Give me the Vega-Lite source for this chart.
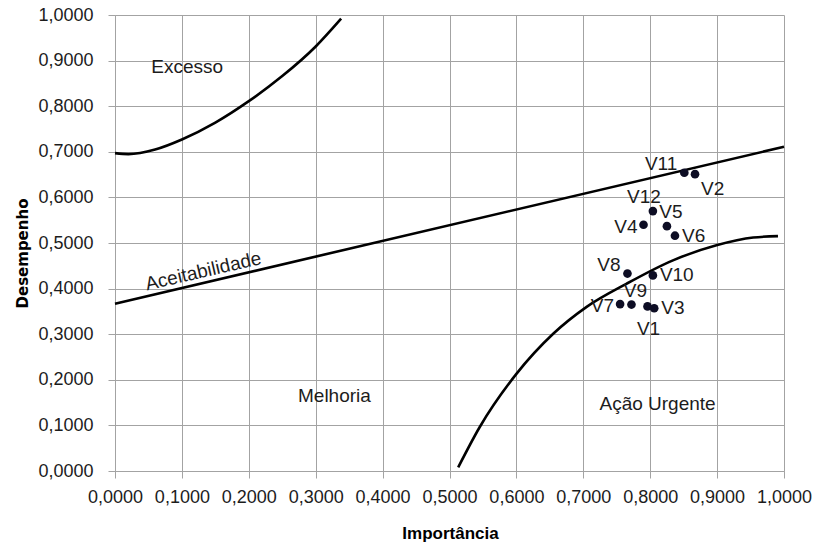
{
  "$schema": "https://vega.github.io/schema/vega-lite/v6.json",
  "width": 669,
  "height": 456,
  "autosize": "none",
  "padding": {"left": 115, "top": 15, "right": 30, "bottom": 71},
  "background": "white",
  "config": {
    "view": {"stroke": null},
    "font": "Liberation Sans",
    "axis": {
      "grid": true,
      "gridColor": "#a3a3a3",
      "gridWidth": 1,
      "domainColor": "#a3a3a3",
      "tickColor": "#a3a3a3",
      "tickSize": 7,
      "labelFont": "Liberation Sans",
      "labelFontSize": 18,
      "labelColor": "#1c1c1c",
      "labelOverlap": false,
      "labelFlush": false,
      "titleColor": "#000000",
      "titleFontWeight": "bold"
    },
    "text": {"font": "Liberation Sans", "fontSize": 19, "color": "#1c1c1c"}
  },
  "datasets": {
    "curves": [
      {"series": "Excesso", "x": 0.0, "y": 0.697},
      {"series": "Excesso", "x": 0.02, "y": 0.695},
      {"series": "Excesso", "x": 0.06, "y": 0.705},
      {"series": "Excesso", "x": 0.1, "y": 0.727},
      {"series": "Excesso", "x": 0.15, "y": 0.764},
      {"series": "Excesso", "x": 0.2, "y": 0.811},
      {"series": "Excesso", "x": 0.25, "y": 0.866},
      {"series": "Excesso", "x": 0.3, "y": 0.931},
      {"series": "Excesso", "x": 0.338, "y": 0.992},
      {"series": "Aceitabilidade", "x": 0.0, "y": 0.367},
      {"series": "Aceitabilidade", "x": 1.0, "y": 0.711},
      {"series": "Urgente", "x": 0.513, "y": 0.008},
      {"series": "Urgente", "x": 0.545, "y": 0.096},
      {"series": "Urgente", "x": 0.6, "y": 0.213},
      {"series": "Urgente", "x": 0.655, "y": 0.301},
      {"series": "Urgente", "x": 0.705, "y": 0.36},
      {"series": "Urgente", "x": 0.765, "y": 0.411},
      {"series": "Urgente", "x": 0.834, "y": 0.462},
      {"series": "Urgente", "x": 0.899, "y": 0.495},
      {"series": "Urgente", "x": 0.954, "y": 0.512},
      {"series": "Urgente", "x": 0.991, "y": 0.515}
    ],
    "points": [
      {"label": "V1", "x": 0.796, "y": 0.361},
      {"label": "V2", "x": 0.867, "y": 0.651},
      {"label": "V3", "x": 0.806, "y": 0.357},
      {"label": "V4", "x": 0.79, "y": 0.54},
      {"label": "V5", "x": 0.825, "y": 0.537},
      {"label": "V6", "x": 0.837, "y": 0.516},
      {"label": "V7", "x": 0.755, "y": 0.366},
      {"label": "V8", "x": 0.766, "y": 0.433},
      {"label": "V9", "x": 0.772, "y": 0.365},
      {"label": "V10", "x": 0.804, "y": 0.429},
      {"label": "V11", "x": 0.851, "y": 0.654},
      {"label": "V12", "x": 0.804, "y": 0.57}
    ],
    "notes": [
      {"label": "Excesso", "x": 0.108, "y": 0.885},
      {"label": "Melhoria", "x": 0.328, "y": 0.164},
      {"label": "Ação Urgente", "x": 0.811, "y": 0.146}
    ],
    "rotated": [
      {"label": "Aceitabilidade", "x": 0.132, "y": 0.438}
    ]
  },
  "encoding": {
    "x": {
      "field": "x",
      "type": "quantitative",
      "scale": {"domain": [0, 1], "nice": false, "zero": false},
      "axis": {
        "values": [0, 0.1, 0.2, 0.3, 0.4, 0.5, 0.6, 0.7, 0.8, 0.9, 1.0],
        "labelExpr": "replace(format(datum.value, '.4f'), '.', ',')",
        "labelPadding": 10,
        "title": "Importância",
        "titleFont": "Liberation Sans",
        "titleFontSize": 17,
        "titleX": 335,
        "titleY": 62,
        "titleBaseline": "middle",
        "titleAlign": "center"
      }
    },
    "y": {
      "field": "y",
      "type": "quantitative",
      "scale": {"domain": [0, 1], "nice": false, "zero": false},
      "axis": {
        "values": [0, 0.1, 0.2, 0.3, 0.4, 0.5, 0.6, 0.7, 0.8, 0.9, 1.0],
        "labelExpr": "replace(format(datum.value, '.4f'), '.', ',')",
        "labelPadding": 15,
        "title": "Desempenho",
        "titleFont": "DejaVu Sans",
        "titleFontSize": 15,
        "titleAngle": 270,
        "titleX": -93,
        "titleY": 238,
        "titleBaseline": "middle",
        "titleAlign": "center"
      }
    }
  },
  "layer": [
    {
      "data": {"name": "curves"},
      "mark": {"type": "line", "color": "#000000", "strokeWidth": 2.6, "interpolate": "monotone"},
      "encoding": {"detail": {"field": "series"}}
    },
    {
      "data": {"name": "points"},
      "mark": {"type": "circle", "size": 75, "opacity": 1, "color": "#0d0d24"}
    },
    {
      "data": {"name": "points"},
      "transform": [{"filter": {"field": "label", "oneOf": ["V4", "V7"]}}],
      "mark": {"type": "text", "align": "right", "baseline": "middle", "dx": -6, "dy": 2},
      "encoding": {"text": {"field": "label"}}
    },
    {
      "data": {"name": "points"},
      "transform": [{"filter": {"field": "label", "oneOf": ["V11", "V8"]}}],
      "mark": {"type": "text", "align": "right", "baseline": "middle", "dx": -7, "dy": -9},
      "encoding": {"text": {"field": "label"}}
    },
    {
      "data": {"name": "points"},
      "transform": [{"filter": {"field": "label", "oneOf": ["V6", "V10", "V3"]}}],
      "mark": {"type": "text", "align": "left", "baseline": "middle", "dx": 7, "dy": 0},
      "encoding": {"text": {"field": "label"}}
    },
    {
      "data": {"name": "points"},
      "transform": [{"filter": {"field": "label", "oneOf": ["V2"]}}],
      "mark": {"type": "text", "align": "left", "baseline": "middle", "dx": 6, "dy": 15},
      "encoding": {"text": {"field": "label"}}
    },
    {
      "data": {"name": "points"},
      "transform": [{"filter": {"field": "label", "oneOf": ["V12"]}}],
      "mark": {"type": "text", "align": "center", "baseline": "middle", "dx": -9, "dy": -14},
      "encoding": {"text": {"field": "label"}}
    },
    {
      "data": {"name": "points"},
      "transform": [{"filter": {"field": "label", "oneOf": ["V5", "V9"]}}],
      "mark": {"type": "text", "align": "center", "baseline": "middle", "dx": 4, "dy": -14},
      "encoding": {"text": {"field": "label"}}
    },
    {
      "data": {"name": "points"},
      "transform": [{"filter": {"field": "label", "oneOf": ["V1"]}}],
      "mark": {"type": "text", "align": "center", "baseline": "middle", "dx": 1, "dy": 23},
      "encoding": {"text": {"field": "label"}}
    },
    {
      "data": {"name": "notes"},
      "mark": {"type": "text", "align": "center", "baseline": "middle"},
      "encoding": {"text": {"field": "label"}}
    },
    {
      "data": {"name": "rotated"},
      "mark": {"type": "text", "align": "center", "baseline": "middle", "angle": 347},
      "encoding": {"text": {"field": "label"}}
    }
  ]
}
